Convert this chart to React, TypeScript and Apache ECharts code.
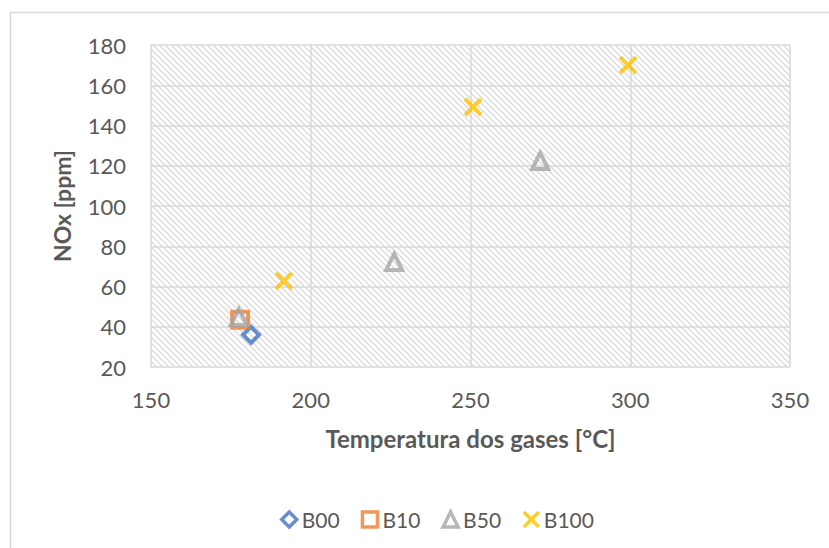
import React, { useEffect, useRef } from "react";
import * as echarts from "echarts";

const seriesNames = ["B00", "B10", "B50", "B100"];
const b00: [number, number][] = [[181.3, 36]];
const b10: [number, number][] = [[177.9, 43.5]];
const b50: [number, number][] = [[177.5, 44.8], [226.1, 72.2], [271.8, 122.4]];
const b100: [number, number][] = [[191.6, 62.8], [250.8, 149.2], [299.3, 170]];
const colors = ["#4472C4", "#ED7D31", "#A5A5A5", "#FFC000"];
const xTitle = "Temperatura dos gases [°C]";
const yTitle = "NOx [ppm]";

const FONT = "Lato, 'Noto Sans', sans-serif";
const hatchSvg =
  "<svg xmlns='http://www.w3.org/2000/svg' width='6' height='6'>" +
  "<path d='M-1,-1 L7,7 M-4,2 L2,8 M2,-4 L8,2' stroke='#dadada' stroke-width='1.3' fill='none'/></svg>";
const hatchUrl = "data:image/svg+xml;charset=utf-8," + encodeURIComponent(hatchSvg);

export default function App() {
  const ref = useRef<HTMLDivElement>(null);
  useEffect(() => {
    document.body.style.margin = "0";
    const chart = echarts.init(ref.current!, null, { renderer: "svg" });
    const data = [b00, b10, b50, b100];
    const symbols = [
      "diamond",
      "rect",
      "triangle",
      "path://M0,0 L10,10 M10,0 L0,10",
    ];
    chart.setOption({
      animation: false,
      backgroundColor: "#ffffff",
      graphic: [
        {
          type: "rect",
          shape: { x: 10.5, y: 12.5, width: 900, height: 700 },
          style: { fill: "none", stroke: "#d9d9d9", lineWidth: 1.5 },
          silent: true,
        },
      ],
      grid: {
        left: 151,
        right: 39,
        top: 45,
        bottom: 181,
        show: true,
        borderWidth: 0,
        backgroundColor: {
          image: hatchUrl,
          repeat: "repeat",
          imageWidth: 6,
          imageHeight: 6,
        },
      },
      legend: {
        top: 504,
        left: 275,
        itemWidth: 15,
        itemHeight: 15,
        itemGap: 21,
        itemStyle: { borderWidth: 3.5 },
        textStyle: { fontSize: 21, color: "#595959", fontFamily: FONT },
        data: seriesNames,
      },
      xAxis: {
        type: "value",
        min: 150,
        max: 350,
        interval: 50,
        name: xTitle,
        nameLocation: "middle",
        nameGap: 59,
        nameTextStyle: { fontSize: 24, fontWeight: "bold", color: "#595959", fontFamily: FONT },
        axisLine: { show: false },
        axisTick: { show: false },
        axisLabel: { fontSize: 22, color: "#595959", margin: 21, fontFamily: FONT },
        splitLine: { show: true, lineStyle: { color: "#d9d9d9", width: 1.5 } },
      },
      yAxis: {
        type: "value",
        min: 20,
        max: 180,
        interval: 20,
        name: yTitle,
        nameLocation: "middle",
        nameGap: 78,
        nameRotate: 90,
        nameTextStyle: { fontSize: 23, fontWeight: "bold", color: "#595959", fontFamily: FONT },
        axisLine: { show: false },
        axisTick: { show: false },
        axisLabel: { fontSize: 22, color: "#595959", margin: 25, fontFamily: FONT },
        splitLine: { show: true, lineStyle: { color: "#d9d9d9", width: 1.5 } },
      },
      series: seriesNames.map((name, i) => ({
        name,
        type: "scatter",
        data: data[i],
        symbol: symbols[i],
        symbolSize: 16,
        itemStyle: {
          color: "rgba(255,255,255,0)",
          borderColor: colors[i],
          borderWidth: 4,
        },
      })),
    });
    return () => chart.dispose();
  }, []);
  return <div ref={ref} style={{ width: 829, height: 548 }} />;
}
